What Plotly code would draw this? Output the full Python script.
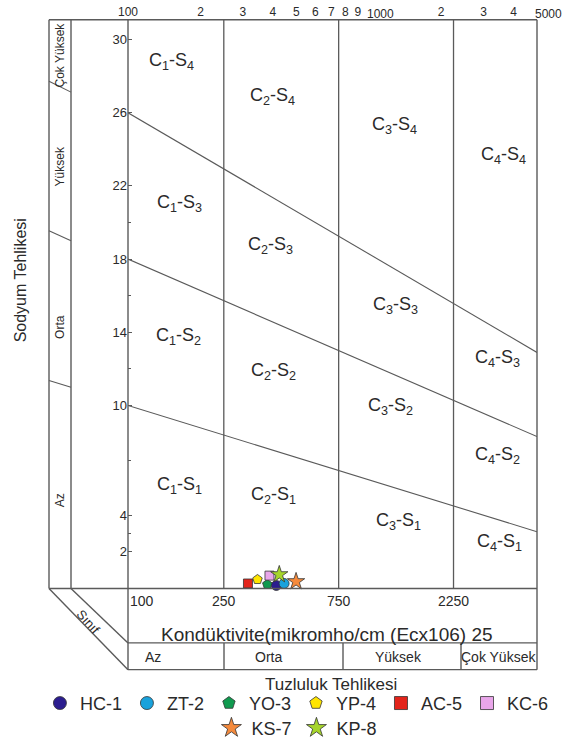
import numpy as np
import plotly.graph_objects as go

W, H = 571, 747
FONT = "Arial, Liberation Sans, sans-serif"
LINE = "#5a5a5a"
TXT = "#2a2a2a"

# ---------------- data ----------------
samples = ["HC-1", "ZT-2", "YO-3", "YP-4", "AC-5", "KC-6", "KS-7", "KP-8"]
ec_values = [413, 445, 379, 345, 315, 387, 499, 425]          # µmho/cm
sar_values = [0.16, 0.27, 0.22, 0.49, 0.27, 0.70, 0.38, 0.76]  # SAR
symbols = ["circle", "circle", "pentagon", "pentagon", "square", "square", "star", "star"]
colors = ["#2b1d8f", "#19a2dc", "#109a4f", "#ffe500", "#e3241b", "#e9a6ea", "#f58a3c", "#a6d52b"]

ec_range = [100, 5000]
sar_range = [0, 31.08]
salinity_limits = [250, 750, 2250]
boundary_ec = [100, 5000]
boundary_sar = [[10, 3.1], [18, 8.3], [26, 12.9]]   # S1/S2, S2/S3, S3/S4

top_tickvals = [100, 200, 300, 400, 500, 600, 700, 800, 900, 2000, 3000, 4000]
top_ticktext = ["100", "2", "3", "4", "5", "6", "7", "8", "9", "2", "3", "4"]
top_left_labels = [1000, 5000]   # labels that start at their tick
y_tickvals = [2, 4, 10, 14, 18, 22, 26, 30]
y_minorvals = [3, 7, 12, 16, 20]
bottom_labels = [100, 250, 750, 2250]
salinity_classes = ["Az", "Orta", "Yüksek", "Çok Yüksek"]
sodium_classes = ["Çok Yüksek", "Yüksek", "Orta", "Az"]
zone_c = [1, 2, 3, 4]
zone_s = [4, 3, 2, 1]

# ---------------- layout helpers ----------------
def px(x):
    return x / W

def py(y):
    return 1 - y / H

X0, X1, Y0, Y1 = 128, 537, 20, 594

fig = go.Figure()

# class boundary lines
for ec in salinity_limits:
    fig.add_trace(go.Scatter(x=[ec, ec], y=sar_range, mode="lines",
                             line=dict(color=LINE, width=1.3), showlegend=False, hoverinfo="skip"))
for b in boundary_sar:
    fig.add_trace(go.Scatter(x=boundary_ec, y=b, mode="lines",
                             line=dict(color=LINE, width=1.1), showlegend=False, hoverinfo="skip"))

# samples
for name, ec, sar, sym, col in zip(samples, ec_values, sar_values, symbols, colors):
    size = 13 if sym == "star" else (9 if sym == "square" else 10)
    fig.add_trace(go.Scatter(x=[ec], y=[sar], mode="markers", name=name, showlegend=False,
                             cliponaxis=False,
                             marker=dict(symbol=sym, size=size, color=col,
                                         line=dict(color="#333333", width=0.8))))
# legend entries
for i, (name, sym, col) in enumerate(zip(samples, symbols, colors)):
    fig.add_trace(go.Scatter(x=[None], y=[None], mode="markers", name=name,
                             legend="legend" if i < 6 else "legend2",
                             marker=dict(symbol=sym, size=15 if sym == "star" else 13, color=col,
                                         line=dict(color="#333333", width=0.8))))

shapes = []
def seg(x0, y0, x1, y1, w=1.4):
    shapes.append(dict(type="line", xref="paper", yref="paper",
                       x0=px(x0), y0=py(y0), x1=px(x1), y1=py(y1),
                       line=dict(color=LINE, width=w)))

seg(49, Y0, X1, Y0)
seg(49, Y1, X1, Y1)
seg(49, Y0, 49, Y1)
seg(71, Y0, 71, Y1)
seg(X0, Y0, X0, 676)
seg(X1, Y0, X1, 676)
seg(X0, 649, X1, 649)
seg(X0, 676, X1, 676)
for xd in [224, 343, 461]:
    seg(xd, 649, xd, 676)
seg(49, Y1, X0, 676)
seg(71, Y1, X0, 649)
for ya, yb in [(82, 93), (233, 243), (384, 391)]:
    seg(49, ya, 71, yb, 1.1)

ann = []
def text(x, y, s, size=14, angle=0, **kw):
    ann.append(dict(x=px(x), y=py(y), xref="paper", yref="paper", text=s, showarrow=False,
                    textangle=angle, font=dict(family=FONT, size=size, color=TXT),
                    xanchor="center", yanchor="middle", **kw))

# zone labels
zone_pos = [[(172, 62), (272, 97), (394, 127), (503, 157)],
            [(180, 205), (270, 248), (395, 308), (497, 362)],
            [(178, 340), (273, 375), (390, 410), (497, 460)],
            [(180, 490), (273, 500), (398, 526), (499, 548)]]
for si, s in enumerate(zone_s):
    for ci, c in enumerate(zone_c):
        x, y = zone_pos[si][ci]
        text(x, y, f"C<sub>{c}</sub>-S<sub>{s}</sub>", size=18)

# bottom conductivity labels (tied to the x axis)
for v in bottom_labels:
    ann.append(dict(x=np.log10(v), xref="x", y=py(607), yref="paper", text=str(v),
                    showarrow=False, xanchor="left" if v == 100 else "center", yanchor="middle",
                    font=dict(family=FONT, size=14, color=TXT)))
# top labels that start at their tick
for v in top_left_labels:
    ann.append(dict(x=np.log10(v), xref="x", y=py(14), yref="paper", text=str(v),
                    showarrow=False, xanchor="left", xshift=-4, yanchor="middle",
                    font=dict(family=FONT, size=12, color=TXT)))

text(327, 641, "Kondüktivite(mikromho/cm (Ecx106) 25", size=19)
for lbl, xc in zip(salinity_classes, [153, 268, 398, 498]):
    text(xc, 663, lbl, size=14)
text(331, 691, "Tuzluluk Tehlikesi", size=17)
text(20, 283, "Sodyum Tehlikesi", size=16, angle=-90)
for lbl, yc in zip(sodium_classes, [56, 168, 330, 505]):
    text(60, yc, lbl, size=12, angle=-90)
text(88, 627, "Sınıf", size=13, angle=48)

fig.update_layout(
    width=W, height=H, margin=dict(l=0, r=0, t=0, b=0),
    paper_bgcolor="white", plot_bgcolor="white",
    font=dict(family=FONT, color=TXT),
    shapes=shapes, annotations=ann,
    xaxis=dict(type="log", range=[np.log10(ec_range[0]), np.log10(ec_range[1])],
               domain=[px(X0), px(X1)], side="top", tickmode="array",
               tickvals=top_tickvals, ticktext=top_ticktext, ticks="", tickangle=0,
               tickfont=dict(size=12, color=TXT), showgrid=False, zeroline=False,
               showline=False, automargin=False),
    yaxis=dict(range=sar_range, domain=[py(Y1), py(Y0)], tickmode="array",
               tickvals=y_tickvals, ticks="inside", ticklen=4, tickcolor=LINE,
               tickfont=dict(size=13, color=TXT), showgrid=False, zeroline=False,
               showline=False, automargin=False,
               minor=dict(tickvals=y_minorvals, ticks="inside", ticklen=3, tickcolor=LINE)),
    legend=dict(orientation="h", x=0.52, xanchor="center", y=py(710), yanchor="middle",
                font=dict(family=FONT, size=18, color=TXT), bgcolor="rgba(0,0,0,0)",
                itemclick=False, tracegroupgap=0),
    legend2=dict(orientation="h", x=0.52, xanchor="center", y=py(735), yanchor="middle",
                 font=dict(family=FONT, size=18, color=TXT), bgcolor="rgba(0,0,0,0)",
                 itemclick=False, tracegroupgap=0),
)

fig.write_html("out.html", config={"displayModeBar": False},
               post_script="document.body.style.margin='0px';")
